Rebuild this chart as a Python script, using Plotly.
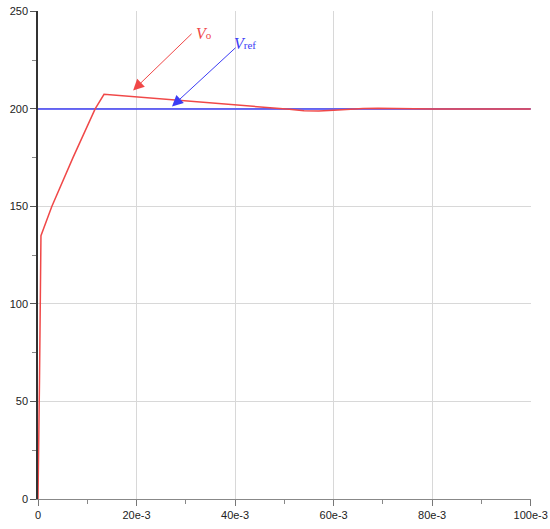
import plotly.graph_objects as go

# simulation output
t_vo = [0, 0.0001, 0.0003, 0.0006, 0.0028, 0.0071, 0.0116, 0.0134,
        0.02, 0.03, 0.04, 0.047, 0.051, 0.054, 0.057, 0.060, 0.063, 0.066, 0.069, 0.072, 0.076, 0.08, 0.09, 0.1]
vo = [0, 15, 60, 135, 150, 175, 200, 207.5,
      206.2, 204.3, 202.2, 200.9, 199.8, 199.1, 198.9, 199.3, 199.8, 200.2, 200.35, 200.25, 200.05, 200, 200, 200]
t_ref = [0, 0.1]
vref = [200, 200]

xtick_vals = [0, 0.02, 0.04, 0.06, 0.08, 0.1]
xtick_text = ["0", "20e-3", "40e-3", "60e-3", "80e-3", "100e-3"]
ytick_vals = [0, 50, 100, 150, 200, 250]

red = "#f04848"
blue = "#3c3cf5"

fig = go.Figure()
fig.add_trace(go.Scatter(x=t_ref, y=vref, mode="lines", line=dict(color=blue, width=1.5)))
fig.add_trace(go.Scatter(x=t_vo, y=vo, mode="lines", line=dict(color=red, width=1.5)))

# arrows
fig.add_annotation(x=0.0193, y=209.5, ax=60, ay=-58, text="", showarrow=True,
                   arrowhead=2, arrowsize=2.2, arrowwidth=1, arrowcolor=red)
fig.add_annotation(x=0.0272, y=201.3, ax=65, ay=-60, text="", showarrow=True,
                   arrowhead=2, arrowsize=2.2, arrowwidth=1, arrowcolor=blue)
fig.add_annotation(x=0.0316, y=238.8, text="<i>V</i><span style='font-size:11px'>o</span>",
                   showarrow=False, font=dict(family="Liberation Serif", size=16, color=red),
                   xanchor="left")
fig.add_annotation(x=0.0394, y=233.6, text="<i>V</i><span style='font-size:11px'>ref</span>",
                   showarrow=False, font=dict(family="Liberation Serif", size=16, color=blue),
                   xanchor="left")

fig.update_layout(
    width=550, height=529,
    margin=dict(l=38, r=19, t=11, b=30),
    paper_bgcolor="white", plot_bgcolor="white",
    showlegend=False,
    font=dict(family="Liberation Sans", size=11, color="#222"),
)
fig.update_xaxes(range=[0, 0.10006], tickvals=xtick_vals, ticktext=xtick_text, automargin=False,
                 ticklabeloverflow="allow",
                 showgrid=True, gridcolor="#d8d8d8", gridwidth=1,
                 ticks="outside", ticklen=6, tickcolor="#777",
                 showline=True, linecolor="#888", linewidth=1, zeroline=False,
                 minor=dict(ticks="outside", ticklen=4, tickcolor="#888", dtick=0.01, showgrid=False))
fig.update_yaxes(range=[0, 250.2], tickvals=ytick_vals, automargin=False,
                 ticklabeloverflow="allow",
                 showgrid=True, gridcolor="#d8d8d8", gridwidth=1,
                 ticks="outside", ticklen=6, tickcolor="#555",
                 showline=True, linecolor="#333", linewidth=1.5, zeroline=False,
                 minor=dict(ticks="outside", ticklen=4, tickcolor="#888", dtick=25, showgrid=False))

# page has a default body margin; drop it so the figure fills the window
fig.write_html("out.html", config={"displayModeBar": False},
               post_script="document.body.style.margin='0';")
